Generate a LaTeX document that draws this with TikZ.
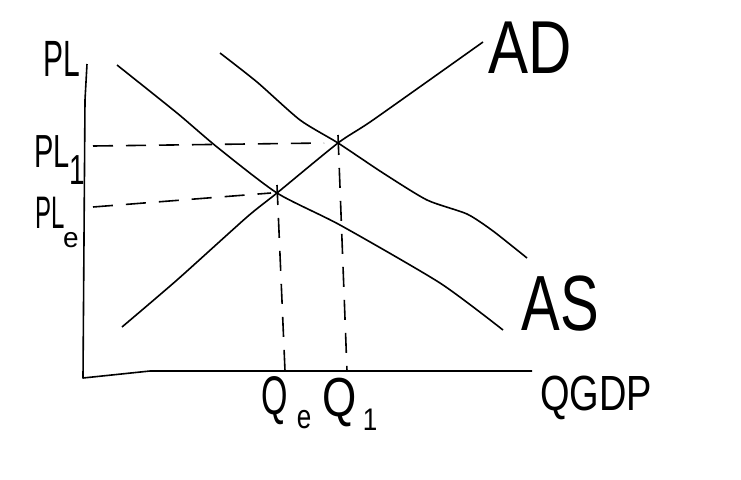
\documentclass[tikz,border=0pt]{standalone}
\usepackage{fontspec}
\setmainfont{Liberation Sans}
\usepackage{graphicx}
\newcommand{\tall}[2][1.5]{\scalebox{1}[#1]{#2}}
\tikzset{
  curve/.style={line width=1.6pt, line join=round},
  guide/.style={line width=1.6pt, dash pattern=on 20pt off 13pt},
  lbl/.style={inner sep=0pt, font=\fontsize{#1}{#1}\selectfont}
}
\begin{document}
\begin{tikzpicture}[x=1pt,y=-1pt]
   \useasboundingbox (0,0) rectangle (741,479);
   % axes
   \coordinate (O) at (83,378);
   \coordinate (ytop) at (87,64);
   \coordinate (xend) at (532,371);
   \draw[curve] (ytop) -- (85,100) -- (O) -- (150,371) -- (xend);
   % equilibria
   \coordinate (E) at (277,193);
   \coordinate (F) at (338,143);
   % the three lines
   \draw[curve] plot[smooth,tension=0.4] coordinates
     {(122,327) (177,280) (247,217) (E) (F) (373,120) (483,42)};
   \draw[curve] plot[smooth,tension=0.4] coordinates
     {(117,65) (177,113) (217,147) (E) (340,225) (440,283) (503,330)};
   \draw[curve] plot[smooth,tension=0.4] coordinates
     {(220,53) (257,82) (300,120) (F) (383,173) (427,200) (467,214) (493,231) (527,258)};
   % guides
   \coordinate (P1) at (93,146);
   \coordinate (P0) at (93,207);
   \coordinate (Q0) at (285,371);
   \coordinate (Q1) at (347,371);
   \draw[guide] (P1) -- ([xshift=-14pt]F);
   \draw[guide] (P0) -- ([xshift=-6pt]E);
   \draw[guide] ([yshift=8pt]E) -- (Q0);
   \draw[guide] ([yshift=8pt]F) -- (Q1);
   % labels
   \node[lbl=30] (PL) at (62,59) {\tall[1.7]{PL}};
   \node[lbl=29] (PLone) at (52,152) {\tall[1.6]{PL}};
   \node[lbl=28] (one) at (77,170) {\tall[1.5]{1}};
   \node[lbl=24] (PLe) at (50,213) {\tall[1.9]{PL}};
   \node[lbl=28] (e) at (71,240) {e};
   \node[lbl=34] (Qe) at (275,401) {\tall[1.6]{Q}};
   \node[lbl=26] (ee) at (304,420) {\tall[1.3]{e}};
   \node[lbl=44] (Qone) at (340,402) {\tall[1.25]{Q}};
   \node[lbl=26] (qone) at (370,420) {\tall[1.2]{1}};
   \node[lbl=38] (QGDP) at (596,398) {\tall[1.3]{QGDP}};
   \node[lbl=60] (AD) at (530,48) {\tall[1.25]{AD}};
   \node[lbl=58] (AS) at (560,304) {\tall[1.35]{AS}};
\end{tikzpicture}
\end{document}
